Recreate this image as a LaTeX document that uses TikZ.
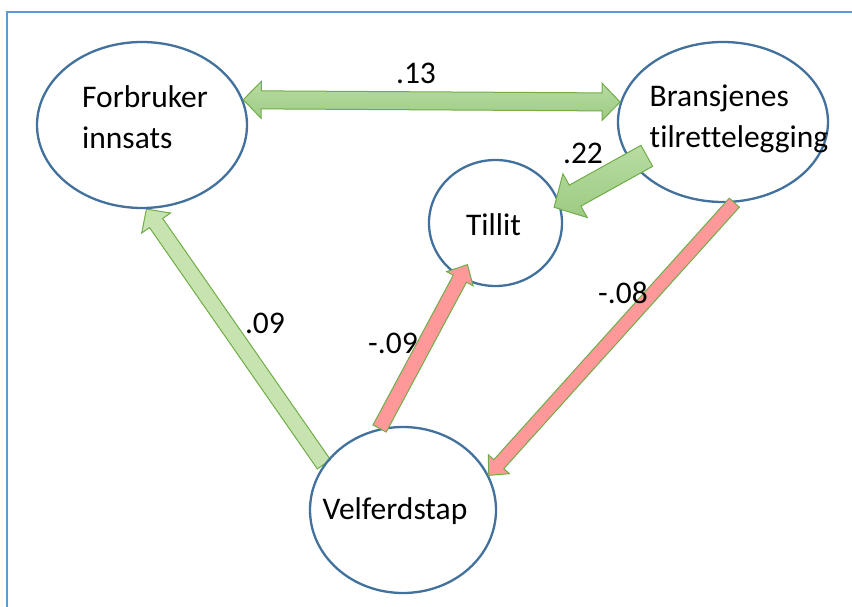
\documentclass[tikz,border=0pt]{standalone}
\usepackage{fontspec}
\setmainfont{Carlito}[Ligatures=CommonOff]
\usetikzlibrary{calc,shapes.geometric}
\pgfdeclarelayer{paper}
\pgfdeclarelayer{background}
\pgfsetlayers{paper,background,main}

\definecolor{framecol}{HTML}{5B9BD5}
\definecolor{ovalcol}{HTML}{41719C}
\definecolor{greenline}{HTML}{70AD47}
\definecolor{greentop}{HTML}{B8DCA3}
\definecolor{greenbot}{HTML}{9DCB83}
\definecolor{greenlight}{HTML}{C6E3B0}
\definecolor{pinkfill}{HTML}{FF9999}

% block arrow: style, tail, tip, shaft half width, head half width, head length
\newcommand\blockarrow[6]{%
  \coordinate (ba-h) at ($(#3)!#6!(#2)$);
  \draw[#1] ($(#2)!#4!90:(#3)$) -- ($(ba-h)!#4!90:(#3)$) -- ($(ba-h)!#5!90:(#3)$)
    -- (#3) -- ($(ba-h)!#5!-90:(#3)$) -- ($(ba-h)!#4!-90:(#3)$)
    -- ($(#2)!#4!-90:(#3)$) -- cycle;
}
% double-headed block arrow: style, end one, end two, shaft half width, head half width, head length
\newcommand\twowayarrow[6]{%
  \coordinate (da-a) at ($(#2)!#6!(#3)$);
  \coordinate (da-b) at ($(#3)!#6!(#2)$);
  \draw[#1] (#2) -- ($(da-a)!#5!90:(#3)$) -- ($(da-a)!#4!90:(#3)$)
    -- ($(da-b)!#4!-90:(#2)$) -- ($(da-b)!#5!-90:(#2)$) -- (#3)
    -- ($(da-b)!#5!90:(#2)$) -- ($(da-b)!#4!90:(#2)$)
    -- ($(da-a)!#4!-90:(#3)$) -- ($(da-a)!#5!-90:(#3)$) -- cycle;
}

\tikzset{
  oval/.style={ellipse, draw=ovalcol, line width=2.3pt, inner sep=0pt},
  txt/.style={font=\fontsize{31.5}{41}\selectfont, inner sep=0pt, align=left},
  coef/.style={font=\fontsize{31.5}{36}\selectfont, inner sep=0pt},
  darkgreen/.style={draw=greenline, line width=1pt, top color=greentop, bottom color=greenbot},
  lightgreen/.style={draw=greenline, line width=1pt, fill=greenlight},
  negative/.style={draw=greenline, line width=1pt, fill=pinkfill},
}

\begin{document}
\begin{tikzpicture}[x=1pt,y=-1pt]
\useasboundingbox (0,0) rectangle (852,607);
\begin{pgfonlayer}{paper}
  \fill[white] (0,0) rectangle (852,607);
\end{pgfonlayer}
% frame
\draw[framecol, line width=2pt] (7,610) -- (7,12) -- (856,12);

% variables
\node[oval, minimum width=210pt, minimum height=166pt] (F) at (142,125) {};
\node[oval, minimum width=210pt, minimum height=160pt] (B) at (723,122) {};
\node[oval, minimum width=133pt, minimum height=126pt] (T) at (495.5,223) {};
\node[oval, minimum width=186pt, minimum height=166pt] (V) at (403,510) {};

\node[txt] (Ftext) at (145,117) {Forbruker\\innsats};
\node[txt] (Btext) at (739,119) {Bransjenes\\tilrettelegging};
\node[txt] (Ttext) at (493.5,225) {Tillit};
\node[txt] (Vtext) at (395,511) {Velferdstap};

% paths
\begin{pgfonlayer}{background}
  \blockarrow{lightgreen}{V.150}{F.-87}{8pt}{17.5pt}{17pt}
\end{pgfonlayer}
\twowayarrow{darkgreen}{F.14}{B.169}{9pt}{18.5pt}{18pt}
\coordinate (b22) at ($(B.center)!0.335!(T.center)$);
\coordinate (t22) at ($(T.center)!0.9!(T.15)$);
\blockarrow{darkgreen}{b22}{t22}{12pt}{25pt}{24pt}
\coordinate (t09) at ($(T.center)!0.77!(T.236)$);
\blockarrow{negative}{V.106}{t09}{7.5pt}{15pt}{16pt}
\blockarrow{negative}{B.-82.5}{V.22}{6.75pt}{14.2pt}{15pt}

% coefficients
\node[coef] (c13) at (416,73) {.13};
\node[coef] (c22) at (583,153) {.22};
\node[coef] (c09) at (265,323) {.09};
\node[coef] (cm09) at (393,343) {-.09};
\node[coef] (cm08) at (623,293) {-.08};
\end{tikzpicture}
\end{document}
